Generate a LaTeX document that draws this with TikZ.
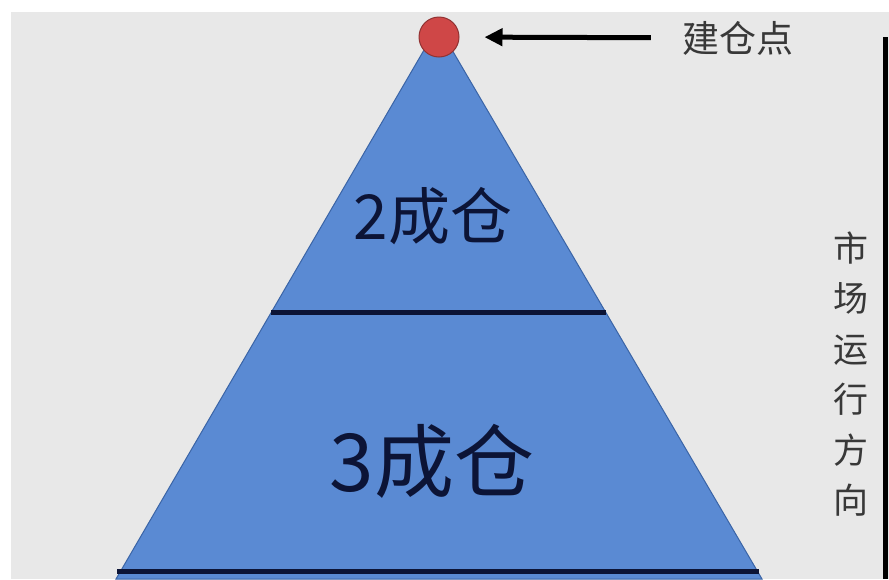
\documentclass[tikz,border=0pt]{standalone}
\usepackage{fontspec}
\newfontfamily\cjk{Noto Sans CJK SC}
\usetikzlibrary{arrows.meta}
\definecolor{bggray}{HTML}{E8E8E8}
\definecolor{pyrblue}{HTML}{5A8AD3}
\definecolor{pyredge}{HTML}{3A64A6}
\definecolor{navy}{HTML}{0C1436}
\definecolor{dotred}{HTML}{CF4747}
\definecolor{textgray}{HTML}{383838}
\begin{document}
\begin{tikzpicture}[x=1pt, y=-1pt,
    sep/.style={line width=5pt, draw=navy},
    level/.style={text=navy, font=\cjk\fontsize{#1}{#1}\selectfont}]
        \useasboundingbox (0,0) rectangle (889,579);
        % Background
        \fill[white] (0,0) rectangle (889,579);
        \fill[bggray] (11,12) rectangle (889,579);

        % Pyramid
        \coordinate (apex) at (438,26);
        \coordinate (baseL) at (116,579);
        \coordinate (baseR) at (762,579);
        \filldraw[fill=pyrblue, draw=pyredge, line width=1pt] (apex) -- (baseL) -- (baseR) -- cycle;
        \coordinate (s1L) at (271,312);
        \coordinate (s1R) at (606,312);
        \coordinate (s2L) at (117,571);
        \coordinate (s2R) at (759,571);
        \draw[sep] (s1L) -- (s1R);
        \draw[sep] (s2L) -- (s2R);

        % Nodes
        \node (two) [level=62] at (433,216) {2成仓};
        \node (three) [level=80] at (432,461) {3成仓};
        \node (top) [circle, minimum size=40pt, inner sep=0pt, fill=dotred, draw=dotred!70!black, line width=1pt] at (439,37) {};
        \node (entry) [text=textgray, font=\cjk\fontsize{37}{37}\selectfont] at (738,38) {建仓点};
        \node (trend) [text=textgray, align=center, font=\cjk\fontsize{35}{50.5}\selectfont] at (851,374) {市\\场\\运\\行\\方\\向};
        \coordinate (vtop) at (885,37);
        \coordinate (vbot) at (885,579);

        % Edges
        \draw[-{Triangle[length=18pt, width=17pt]}, line width=5pt, shorten <=28pt, shorten >=25pt] (entry) -- (top);
        \draw[line width=5pt] (vtop) -- (vbot);
    \end{tikzpicture}
\end{document}
